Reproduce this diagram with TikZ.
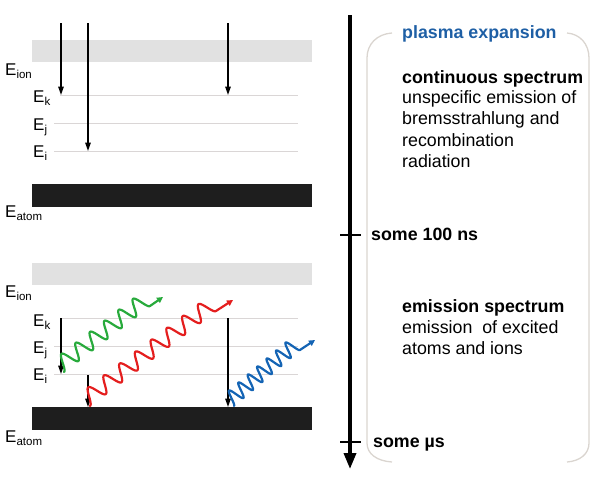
\documentclass[tikz,border=0pt]{standalone}
\usepackage{fontspec}
\setmainfont{Liberation Sans}
\usetikzlibrary{arrows.meta}
\definecolor{bandgray}{RGB}{225,225,225}
\definecolor{bandblack}{RGB}{30,30,30}
\definecolor{levelgray}{RGB}{218,214,214}
\definecolor{titleblue}{RGB}{30,95,165}
\definecolor{brkgray}{RGB}{218,213,208}
\definecolor{wgreen}{RGB}{40,170,60}
\definecolor{wred}{RGB}{228,30,30}
\definecolor{wblue}{RGB}{20,100,180}
\newcommand{\ensub}[1]{E\raisebox{-3.5pt}{\fontsize{11.5}{12}\selectfont #1}}
\begin{document}
\begin{tikzpicture}[x=1pt,y=-1pt,
  bandlight/.style={fill=bandgray,draw=none,inner sep=0pt,minimum width=280pt,minimum height=22pt},
  banddark/.style={fill=bandblack,draw=none,inner sep=0pt,minimum width=280pt,minimum height=23pt},
  level/.style={draw=levelgray,line width=1pt},
  trans/.style={line width=1.4pt,-{Triangle[length=8.5pt,width=5.5pt]}},
  elab/.style={font=\fontsize{17}{20}\selectfont,anchor=base west,inner sep=0pt},
  body/.style={font=\fontsize{17.8}{21}\selectfont,anchor=base west,inner sep=0pt},
  bodyb/.style={font=\bfseries\fontsize{17.8}{21}\selectfont,anchor=base west,inner sep=0pt},
  wave/.style={line width=2.2pt,line join=round,line cap=round,-{Triangle[length=6pt,width=6pt]}},
  tick/.style={line width=1.5pt},
  bracket/.style={draw=brkgray,line width=1.3pt}]
\useasboundingbox (0,0) rectangle (599,477);

% ---------- top level scheme ----------
\node[bandlight] (ion1) at (172,50.5) {};
\node[banddark] (atom1) at (172,195.5) {};
\coordinate (k1a) at (60,95);  \coordinate (k1b) at (298,95);
\coordinate (j1a) at (54,123); \coordinate (j1b) at (298,123);
\coordinate (i1a) at (54,151); \coordinate (i1b) at (298,151);
\draw[level] (k1a) -- (k1b);
\draw[level] (j1a) -- (j1b);
\draw[level] (i1a) -- (i1b);
\node[elab] (Lion1) at (5,75) {\ensub{ion}};
\node[elab] (Lk1) at (33,102) {\ensub{k}};
\node[elab] (Lj1) at (33,130) {\ensub{j}};
\node[elab] (Li1) at (33,157) {\ensub{i}};
\node[elab] (Latom1) at (5,217) {\ensub{atom}};
\coordinate (a1s) at (61,23);  \coordinate (a1e) at (61,95);
\coordinate (a2s) at (88,23);  \coordinate (a2e) at (88,151);
\coordinate (a3s) at (228,23); \coordinate (a3e) at (228,95);
\draw[trans] (a1s) -- (a1e);
\draw[trans] (a2s) -- (a2e);
\draw[trans] (a3s) -- (a3e);

% ---------- bottom level scheme ----------
\node[bandlight] (ion2) at (172,273.5) {};
\node[banddark] (atom2) at (172,418.5) {};
\coordinate (k2a) at (60,318);  \coordinate (k2b) at (298,318);
\coordinate (j2a) at (54,346);  \coordinate (j2b) at (298,346);
\coordinate (i2a) at (54,374);  \coordinate (i2b) at (298,374);
\draw[level] (k2a) -- (k2b);
\draw[level] (j2a) -- (j2b);
\draw[level] (i2a) -- (i2b);
\node[elab] (Lion2) at (5,297) {\ensub{ion}};
\node[elab] (Lk2) at (33,326) {\ensub{k}};
\node[elab] (Lj2) at (33,353) {\ensub{j}};
\node[elab] (Li2) at (33,380) {\ensub{i}};
\node[elab] (Latom2) at (5,442) {\ensub{atom}};
\coordinate (b1s) at (61,318);  \coordinate (b1e) at (61,374);
\coordinate (b2s) at (88,375);  \coordinate (b2e) at (88,407);
\coordinate (b3s) at (228,318); \coordinate (b3e) at (228,407);
\draw[trans] (b1s) -- (b1e);
\draw[trans] (b2s) -- (b2e);
\draw[trans] (b3s) -- (b3e);

% photons (sine waves along their direction, then a straight tail)
\coordinate (g2) at (163,297);
\coordinate (r2) at (233,300);
\coordinate (u2) at (315,340);
\draw[wave,wgreen] plot[domain=0:108.4,samples=240,variable=\t]
  ({64+0.7934*\t+4.871*(cos(19.93*\t)-1)},{372-0.6089*\t+6.347*(cos(19.93*\t)-1)}) -- (g2);
\draw[wave,wred] plot[domain=0:157.8,samples=320,variable=\t]
  ({90+0.7985*\t+4.816*(cos(18.25*\t)-1)},{406-0.602*\t+6.388*(cos(18.25*\t)-1)}) -- (r2);
\draw[wave,wblue] plot[domain=0:86.6,samples=260,variable=\t]
  ({234+0.762*\t+4.853*(cos(29.1*\t)-1)},{406-0.647*\t+5.715*(cos(29.1*\t)-1)}) -- (u2);

% ---------- time axis ----------
\coordinate (t0) at (350,15); \coordinate (t1) at (350,469);
\draw[line width=3.5pt,-{Triangle[length=16pt,width=12pt]}] (t0) -- (t1);
\coordinate (c1a) at (340,235); \coordinate (c1b) at (361,235);
\coordinate (c2a) at (340,442); \coordinate (c2b) at (361,442);
\draw[tick] (c1a) -- (c1b);
\draw[tick] (c2a) -- (c2b);
\node[bodyb] (ns) at (371,240.5) {some 100 ns};
\node[bodyb] (us) at (373,447.5) {some µs};

% ---------- bracket ----------
\draw[bracket] (392,33) .. controls (377,34) and (367,44) .. (367,58) -- (367,443)
  .. controls (367,454) and (377,461) .. (392,462);
\draw[bracket] (567,33) .. controls (580,34) and (589,44) .. (589,58) -- (589,443)
  .. controls (589,454) and (580,461) .. (567,462);

% ---------- texts ----------
\node[bodyb,text=titleblue] (title) at (402,38.5) {plasma expansion};
\node[bodyb] (cs) at (402,83) {continuous spectrum};
\node[body] (cs1) at (402,103) {unspecific emission of};
\node[body] (cs2) at (402,124.5) {bremsstrahlung and};
\node[body] (cs3) at (402,146) {recombination};
\node[body] (cs4) at (402,167.5) {radiation};
\node[bodyb] (es) at (402,312) {emission spectrum};
\node[body] (es1) at (402,333) {emission~ of excited};
\node[body] (es2) at (402,354) {atoms and ions};
\end{tikzpicture}
\end{document}
